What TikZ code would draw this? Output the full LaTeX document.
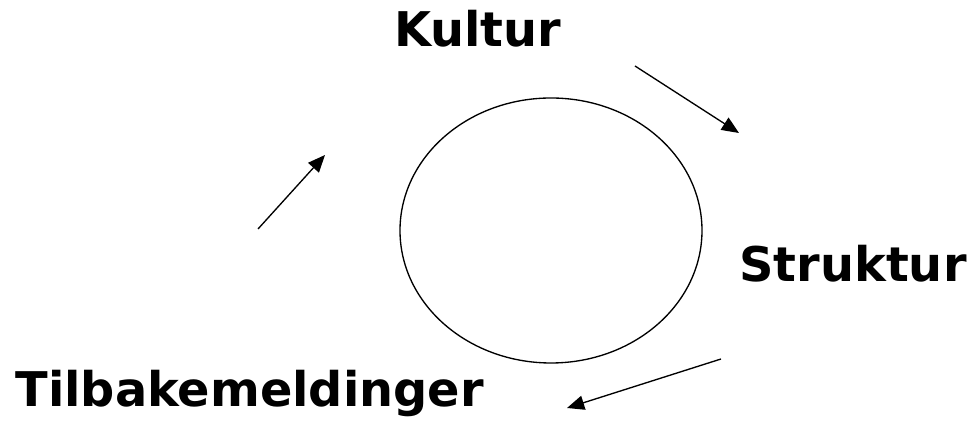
\documentclass[tikz,border=0pt]{standalone}
\usepackage{fontspec}
\setmainfont{DejaVu Sans}
\usetikzlibrary{arrows.meta}

\begin{document}
\begin{tikzpicture}[
    x=1cm,
    y=1cm,
    >={Triangle[length=0.43cm,width=0.36cm]},
    flow/.style={
        ->,
        draw=black,
        line width=0.95pt
    },
    cycle/.style={
        draw=black,
        line width=0.95pt
    },
    stage/.style={
        font=\fontsize{34}{40}\selectfont\bfseries,
        inner sep=0pt,
        anchor=base west
    }
]

\useasboundingbox (0,0) rectangle (24.325,10.575);

% =====================================================
% Labels
% =====================================================

\node[stage] (kultur) at (9.85,9.40) {Kultur};
\node[stage] (struktur) at (18.48,3.525) {Struktur};
\node[stage] (tilbake) at (0.38,0.40) {Tilbakemeldinger};

% =====================================================
% Circle
% =====================================================

\draw[cycle] (13.775,4.8125) ellipse [x radius=3.775, y radius=3.3125];

% =====================================================
% Arrow ends
% =====================================================

\coordinate (KS1) at (15.875,8.925);
\coordinate (KS2) at (18.475,7.25);

\coordinate (ST1) at (18.025,1.60);
\coordinate (ST2) at (14.175,0.375);

\coordinate (TK1) at (6.45,4.85);
\coordinate (TK2) at (8.125,6.70);

% =====================================================
% Arrows
% =====================================================

\draw[flow] (KS1) -- (KS2);
\draw[flow] (ST1) -- (ST2);
\draw[flow] (TK1) -- (TK2);

\end{tikzpicture}
\end{document}
